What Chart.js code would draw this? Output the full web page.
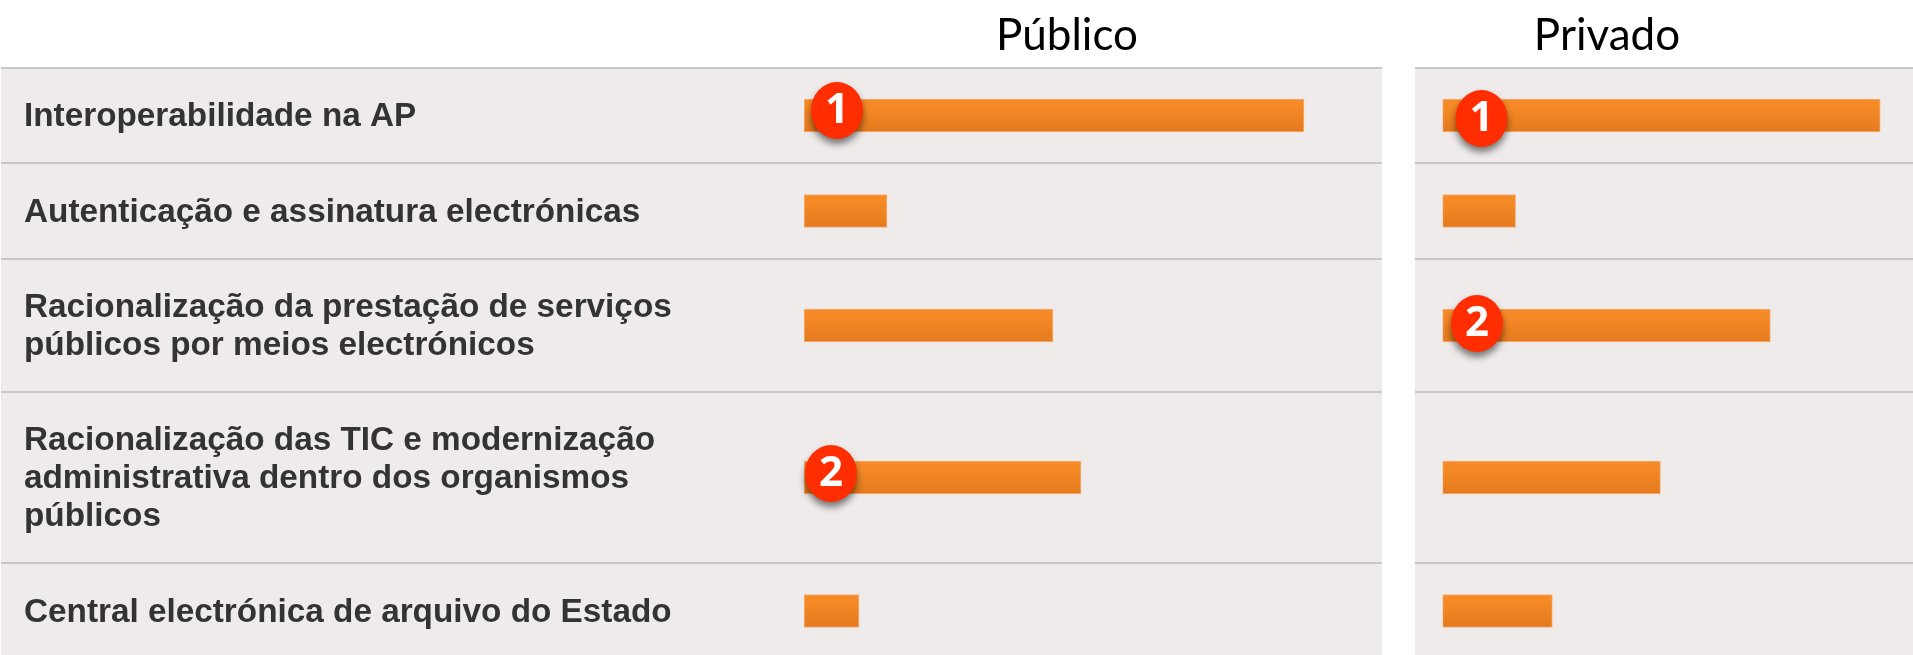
<!DOCTYPE html>
<html lang="pt">
<head>
<meta charset="utf-8">
<title>Público e Privado</title>
<script src="https://cdn.jsdelivr.net/npm/chart.js@4"></script>
<style>
html,body{margin:0;padding:0;background:#fff;width:1913px;height:655px;overflow:hidden}
canvas{position:absolute;top:0;display:block}
#pub{left:0}
#priv{left:1415px}
</style>
</head>
<body>
<canvas id="pub" width="1382" height="655"></canvas>
<canvas id="priv" width="498" height="655"></canvas>
<script>
// ---- data ----
const categories = [
  "Interoperabilidade na AP",
  "Autenticação e assinatura electrónicas",
  ["Racionalização da prestação de serviços", "públicos por meios electrónicos"],
  ["Racionalização das TIC e modernização", "administrativa dentro dos organismos", "públicos"],
  "Central electrónica de arquivo do Estado"
];
const publicoValues = [100, 16.6, 49.8, 55.4, 11];
const privadoValues = [100, 16.7, 74.9, 49.8, 25.1];
const publicoRanks = [1, null, null, 2, null];
const privadoRanks = [1, null, 2, null, null];
const publicoTitle = "Público";
const privadoTitle = "Privado";

// ---- layout / style ----
const rowHeights = [95, 96, 133, 171, 96];
const PANEL = "#efebeb", RULE = "#c9c8c8", TEXT = "#333333", RED = "#ff2d00";

class RowScale extends Chart.CategoryScale {
  rowTop(i) { let t = this.top; for (let k = 0; k < i; k++) t += rowHeights[k]; return t; }
  getPixelForValue(value) {
    const v = typeof value === "number" ? value : this.parse(value);
    if (v === null || v === undefined) return NaN;
    const i = Math.round(v);
    return this.rowTop(i) + rowHeights[i] / 2;
  }
}
RowScale.id = "rowScale";
RowScale.defaults = Chart.CategoryScale.defaults;
Chart.register(RowScale);

const panelPlugin = {
  id: "panel",
  beforeDraw(chart, args, o) {
    const { ctx, width, height } = chart, y = chart.scales.y;
    ctx.save();
    ctx.fillStyle = PANEL;
    ctx.fillRect(o.left, y.top, width - o.left, height - y.top);
    ctx.fillStyle = RULE;
    for (let i = 0; i < rowHeights.length; i++) ctx.fillRect(o.left, y.rowTop(i) - 1, width - o.left, 2);
    ctx.restore();
    const t = chart.titleBlock;
    t.left = o.titleCenter - 200; t.right = o.titleCenter + 200;
  }
};

const badgePlugin = {
  id: "badges",
  afterDatasetsDraw(chart, args, o) {
    const { ctx } = chart, x = chart.scales.x, y = chart.scales.y;
    o.ranks.forEach((rank, i) => {
      if (rank === null) return;
      const off = o.offsets[i];
      const cx = x.getPixelForValue(0) + off[0], cy = y.getPixelForValue(i) + off[1];
      ctx.save();
      ctx.shadowColor = "rgba(0,0,0,0.5)"; ctx.shadowBlur = 7; ctx.shadowOffsetY = 5;
      ctx.fillStyle = RED;
      ctx.beginPath(); ctx.ellipse(cx, cy, 26, 28.5, 0, 0, Math.PI * 2); ctx.fill();
      ctx.restore();
      ctx.save();
      ctx.fillStyle = "#fff";
      ctx.font = "bold 42px 'Open Sans'";
      ctx.textAlign = "center"; ctx.textBaseline = "middle";
      ctx.fillText(String(rank), cx, cy + 1);
      ctx.restore();
    });
  }
};

function barGradient(c) {
  const chart = c.chart;
  const y = chart.scales.y;
  const mid = y && c.dataIndex !== undefined ? y.getPixelForValue(c.dataIndex) : NaN;
  if (!Number.isFinite(mid)) return "#ee8423";
  const g = chart.ctx.createLinearGradient(0, mid - 16, 0, mid + 16);
  g.addColorStop(0, "#f68a27");
  g.addColorStop(0.25, "#f58926");
  g.addColorStop(1, "#e47a1e");
  return g;
}

function makeChart(id, values, title, opts) {
  return new Chart(document.getElementById(id), {
    type: "bar",
    data: {
      labels: categories,
      datasets: [{
        data: values,
        backgroundColor: barGradient,
        borderColor: "rgba(246,170,110,0.9)",
        borderWidth: 1,
        borderSkipped: false,
        barThickness: 33
      }]
    },
    plugins: [panelPlugin, badgePlugin],
    options: {
      indexAxis: "y",
      responsive: false,
      animation: false,
      layout: { padding: { left: opts.padLeft, right: 0, top: 0, bottom: 0 } },
      scales: {
        x: { display: false, min: 0, max: opts.xMax },
        y: {
          type: "rowScale",
          display: opts.showLabels,
          afterFit(s) { if (opts.showLabels) s.width = opts.labelWidth; },
          grid: { display: false, drawTicks: false },
          border: { display: false },
          ticks: {
            autoSkip: false, padding: 0, crossAlign: "far", color: TEXT, labelOffset: 1.5,
            font: { family: "'Liberation Sans'", weight: "bold", size: 33.3, lineHeight: 1.14 }
          }
        }
      },
      plugins: {
        legend: { display: false },
        tooltip: { enabled: false },
        title: {
          display: true, text: title, color: "#000", align: "center",
          font: { family: "Lato", size: 44, weight: "normal", lineHeight: 1.2 },
          padding: { top: 9.6, bottom: 5.6 }
        },
        panel: { left: opts.panelLeft, titleCenter: opts.titleCenter },
        badges: { ranks: opts.ranks, offsets: opts.offsets }
      }
    }
  });
}

makeChart("pub", publicoValues, publicoTitle, {
  padLeft: 24, labelWidth: 780, xMax: 115.6, showLabels: true, panelLeft: 1,
  titleCenter: 1067, ranks: publicoRanks,
  offsets: [[33, -5], null, null, [27, -4], null]
});
makeChart("priv", privadoValues, privadoTitle, {
  padLeft: 27.5, xMax: 107.5, showLabels: false, panelLeft: 0,
  titleCenter: 192, ranks: privadoRanks,
  offsets: [[39, 3], null, [34.5, -2], null, null]
});
</script>
</body>
</html>
